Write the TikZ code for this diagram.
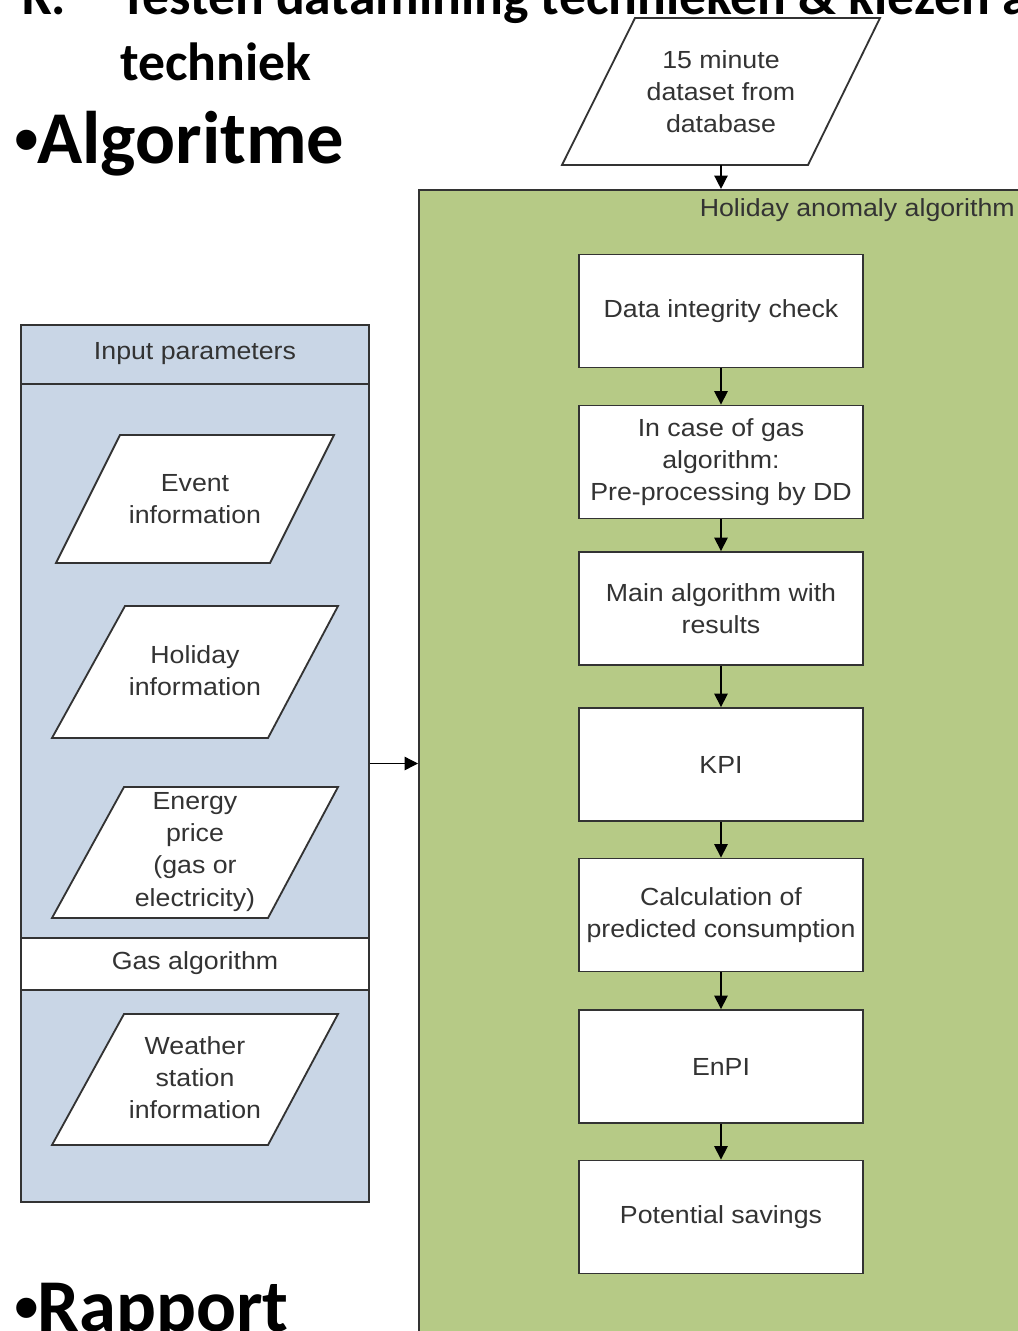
\documentclass[tikz,border=0pt]{standalone}
\usepackage{fontspec}
\setmainfont{Liberation Sans}
\newfontfamily\dfont[FakeStretch=1.08]{Liberation Sans}
\newfontfamily\titlefont{Carlito}
\usetikzlibrary{arrows.meta}
\definecolor{grn}{RGB}{182,202,134}
\definecolor{blu}{RGB}{201,214,230}
\definecolor{ink}{RGB}{51,51,51}
\tikzset{
  every node/.style={text=ink},
  dtext/.style={font=\dfont\fontsize{17.6pt}{22.8pt}\selectfont, align=center},
  stepbox/.style={dtext, draw=ink, line width=1.3pt, fill=white, rectangle,
    minimum width=7.1cm, minimum height=2.825cm, inner sep=0pt},
  paraline/.style={draw=ink, line width=1.3pt, fill=white, line join=miter},
  conn/.style={draw=black, line width=1pt, -{Triangle[width=9.5pt,length=9.5pt]}},
  ttl/.style={font=\titlefont\bfseries\fontsize{38.2pt}{44pt}\selectfont, text=black, anchor=base west, inner sep=0pt},
  bigttl/.style={font=\titlefont\bfseries\fontsize{53pt}{60pt}\selectfont, text=black, anchor=base west, inner sep=0pt},
}
\newcommand\bigbul{{\fontspec{Liberation Sans}\fontsize{50pt}{60pt}\selectfont •}}
\begin{document}
\begin{tikzpicture}[x=0.025cm,y=-0.025cm]
\clip (0,0) rectangle (1018,1331);
\fill[white] (0,0) rectangle (1018,1331);

% titles
\node[ttl] (t0) at (22,14) {K.};
\node[ttl] (t1) at (120,14) {Testen datamining technieken \& kiezen algoritme};
\node[ttl] (t2) at (120,80) {techniek};
\node[bigttl] (t3) at (14,163) {\bigbul\kern-1pt Algoritme};
\node[bigttl] (t4) at (14,1331) {\bigbul\kern-1pt Rapport};

% green container
\node[draw=ink, line width=1.3pt, fill=grn, rectangle, minimum width=15.275cm, minimum height=28.875cm, inner sep=0pt] (alg) at (724.5,767.5) {};
\node[dtext, anchor=east, inner sep=0pt] (algl) at (1015,210) {Holiday anomaly algorithm};

% input dataset
\draw[paraline] (635,18) -- (880,18) -- (808,165) -- (562,165) -- cycle;
\node[dtext, inner sep=0pt] (in) at (721,91.5) {15 minute\\dataset from\\database};
\coordinate (inb) at (721,165);

% blue container
\node[draw=ink, line width=1.3pt, fill=blu, rectangle, minimum width=8.7cm, minimum height=21.925cm, inner sep=0pt] (inp) at (195,763.5) {};
\draw[draw=ink, line width=1.3pt] (21,384) -- (369,384);
\node[dtext, inner sep=0pt] (inpl) at (195,354) {Input parameters};
\node[draw=ink, line width=1.3pt, fill=white, rectangle, minimum width=8.7cm, minimum height=1.3cm, inner sep=0pt] (gas) at (195,964) {};
\node[dtext, inner sep=0pt] (gasl) at (195,963) {Gas algorithm};

\draw[paraline] (120,435) -- (334,435) -- (270,563) -- (56,563) -- cycle;
\node[dtext, inner sep=0pt] (ev) at (195,499) {Event\\information};
\draw[paraline] (125,606) -- (338,606) -- (268,738) -- (52,738) -- cycle;
\node[dtext, inner sep=0pt] (ho) at (195,671) {Holiday\\information};
\draw[paraline] (124,787) -- (338,787) -- (268,918) -- (52,918) -- cycle;
\node[dtext, inner sep=0pt] (en) at (195,852) {Energy\\price\\(gas or\\electricity)};
\draw[paraline] (124,1014) -- (338,1014) -- (268,1145) -- (52,1145) -- cycle;
\node[dtext, inner sep=0pt] (we) at (195,1078) {Weather\\station\\information};

% steps
\node[stepbox] (s1) at (721,311) {Data integrity check};
\node[stepbox] (s2) at (721,462) {In case of gas\\algorithm:\\Pre-processing by DD};
\node[stepbox] (s3) at (721,608.5) {Main algorithm with\\results};
\node[stepbox] (s4) at (721,764.5) {KPI};
\node[stepbox] (s5) at (721,915) {Calculation of\\predicted consumption};
\node[stepbox] (s6) at (721,1066.5) {EnPI};
\node[stepbox] (s7) at (721,1217) {Potential savings};

% connectors
\draw[conn] (inb) -- (inb |- alg.north);
\draw[conn] (s1) -- (s2);
\draw[conn] (s2) -- (s3);
\draw[conn] (s3) -- (s4);
\draw[conn] (s4) -- (s5);
\draw[conn] (s5) -- (s6);
\draw[conn] (s6) -- (s7);
\draw[conn] (inp.east) -- (inp.east -| alg.west);
\end{tikzpicture}
\end{document}
